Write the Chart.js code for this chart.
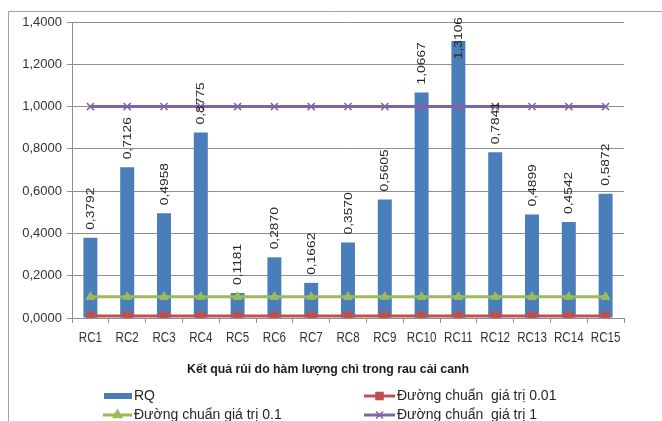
<!DOCTYPE html>
<html>
<head>
<meta charset="utf-8">
<script src="https://cdn.jsdelivr.net/npm/chart.js@4"></script>
<style>
  html, body { margin: 0; padding: 0; background: #ffffff; }
  #wrap { width: 662px; height: 421px; position: relative; }
</style>
</head>
<body>
<div id="wrap"><canvas id="c" width="662" height="421"></canvas></div>
<script>
// Sample codes for the mustard greens (rau cải canh) samples
const categories = ['RC1','RC2','RC3','RC4','RC5','RC6','RC7','RC8','RC9','RC10','RC11','RC12','RC13','RC14','RC15'];
// Risk quotient (RQ) for lead content
const rqValues = [0.3792, 0.7126, 0.4958, 0.8775, 0.1181, 0.2870, 0.1662, 0.3570, 0.5605, 1.0667, 1.3106, 0.7841, 0.4899, 0.4542, 0.5872];
// Reference lines
const ref001 = [0.01, 0.01, 0.01, 0.01, 0.01, 0.01, 0.01, 0.01, 0.01, 0.01, 0.01, 0.01, 0.01, 0.01, 0.01];
const ref01  = [0.1, 0.1, 0.1, 0.1, 0.1, 0.1, 0.1, 0.1, 0.1, 0.1, 0.1, 0.1, 0.1, 0.1, 0.1];
const ref1   = [1, 1, 1, 1, 1, 1, 1, 1, 1, 1, 1, 1, 1, 1, 1];
// Y axis range
const yMin = 0, yMax = 1.4, yStep = 0.2;

const seriesNames = ['RQ', 'Đường chuẩn  giá trị 0.01', 'Đường chuẩn giá trị 0.1', 'Đường chuẩn  giá trị 1'];
const axisTitle = 'Kết quả rủi do hàm lượng chì trong rau cải canh';

const COL_BLUE = '#4a7ebb', COL_RED = '#c0504d', COL_GREEN = '#9bbb59', COL_PURPLE = '#8064a2';
const GRID = '#8e8e8e';
const FONT = '"Liberation Sans", Arial, sans-serif';

const fmt = v => v.toFixed(4).replace('.', ',');

// Frame around the whole chart
const framePlugin = {
  id: 'frame',
  beforeDraw(chart) {
    const ctx = chart.ctx;
    ctx.save();
    ctx.strokeStyle = '#a0a0a0';
    ctx.lineWidth = 1;
    ctx.beginPath();
    ctx.moveTo(8.5, 421);
    ctx.lineTo(8.5, 11.5);
    ctx.lineTo(662, 11.5);
    ctx.stroke();
    ctx.restore();
  }
};

// Vertical value labels above each bar
const barLabelPlugin = {
  id: 'barLabels',
  afterDatasetsDraw(chart) {
    const ctx = chart.ctx;
    const meta = chart.getDatasetMeta(0);
    ctx.save();
    ctx.font = '11.5px ' + FONT;
    ctx.fillStyle = '#262626';
    ctx.textAlign = 'left';
    ctx.textBaseline = 'middle';
    const stretch = 1.2;
    meta.data.forEach((bar, i) => {
      const txt = fmt(rqValues[i]);
      const len = ctx.measureText(txt).width * stretch;
      let start = bar.y - 8;
      if (start - len < 17) start = 17 + len;
      ctx.save();
      ctx.translate(bar.x + 0.5, start);
      ctx.rotate(-Math.PI / 2);
      ctx.scale(stretch, 1);
      ctx.fillText(txt, 0, 0);
      ctx.restore();
    });
    ctx.restore();
  }
};

// Condensed category labels under the x axis
const categoryLabelPlugin = {
  id: 'categoryLabels',
  afterDraw(chart) {
    const ctx = chart.ctx;
    const xs = chart.scales.x;
    ctx.save();
    ctx.font = '14.5px ' + FONT;
    ctx.fillStyle = '#333333';
    ctx.textAlign = 'center';
    ctx.textBaseline = 'middle';
    categories.forEach((c, i) => {
      ctx.save();
      ctx.translate(xs.getPixelForValue(i), 338);
      ctx.scale(0.8, 1);
      ctx.fillText(c, 0, 0);
      ctx.restore();
    });
    ctx.restore();
  }
};

// Axis title and legend beneath the plot
const footerPlugin = {
  id: 'footer',
  afterDraw(chart) {
    const ctx = chart.ctx;
    ctx.save();
    ctx.fillStyle = '#1a1a1a';
    ctx.font = 'bold 13px ' + FONT;
    ctx.textAlign = 'center';
    ctx.textBaseline = 'middle';
    ctx.fillText(axisTitle, 328, 369, 282);

    ctx.font = '14px ' + FONT;
    ctx.textAlign = 'left';

    const items = [
      { x: 104, y: 396, w: 28, kind: 'bar', color: COL_BLUE, label: seriesNames[0] },
      { x: 364, y: 396, w: 31, kind: 'rect', color: COL_RED, label: seriesNames[1] },
      { x: 103, y: 415, w: 29, kind: 'triangle', color: COL_GREEN, label: seriesNames[2] },
      { x: 364, y: 415, w: 31, kind: 'crossRot', color: COL_PURPLE, label: seriesNames[3] }
    ];
    items.forEach(it => {
      if (it.kind === 'bar') {
        ctx.fillStyle = it.color;
        ctx.fillRect(it.x, it.y - 3, it.w, 6);
      } else {
        ctx.strokeStyle = it.color;
        ctx.fillStyle = it.color;
        ctx.lineWidth = 3;
        ctx.beginPath();
        ctx.moveTo(it.x, it.y);
        ctx.lineTo(it.x + it.w, it.y);
        ctx.stroke();
        ctx.lineWidth = 1.5;
        Chart.helpers.drawPoint(ctx, {
          pointStyle: it.kind, radius: 5, borderWidth: 1.5, rotation: 0
        }, it.x + it.w / 2, it.y);
      }
      ctx.fillStyle = '#262626';
      ctx.fillText(it.label, it.x + it.w + 2, it.y);
    });
    ctx.restore();
  }
};

new Chart(document.getElementById('c'), {
  data: {
    labels: categories,
    datasets: [
      {
        type: 'bar', label: seriesNames[0], data: rqValues,
        backgroundColor: COL_BLUE, barPercentage: 0.38, categoryPercentage: 1, order: 4
      },
      {
        type: 'line', label: seriesNames[1], data: ref001,
        borderColor: COL_RED, backgroundColor: COL_RED, borderWidth: 3,
        pointStyle: 'rect', pointRadius: 5.5, pointBorderWidth: 1, order: 3
      },
      {
        type: 'line', label: seriesNames[2], data: ref01,
        borderColor: COL_GREEN, backgroundColor: COL_GREEN, borderWidth: 3,
        pointStyle: 'triangle', pointRadius: 5, pointBorderWidth: 1, order: 2
      },
      {
        type: 'line', label: seriesNames[3], data: ref1,
        borderColor: COL_PURPLE, backgroundColor: COL_PURPLE, borderWidth: 3,
        pointStyle: 'crossRot', pointRadius: 5, pointBorderWidth: 1.5, order: 1
      }
    ]
  },
  options: {
    responsive: false,
    animation: false,
    layout: { padding: { top: 22, right: 38, left: 0, bottom: 0 } },
    plugins: { legend: { display: false }, tooltip: { enabled: false } },
    scales: {
      x: {
        offset: true,
        grid: { offset: true, drawOnChartArea: false, drawTicks: true, tickLength: 5, color: GRID },
        border: { display: true, color: GRID },
        ticks: { display: false, autoSkip: false },
        afterFit(scale) { scale.height = 103; }
      },
      y: {
        min: yMin, max: yMax,
        grid: { color: GRID, tickLength: 5 },
        border: { display: true, color: GRID },
        ticks: {
          stepSize: yStep, color: '#333333', font: { family: FONT, size: 13 }, padding: 5,
          callback: v => fmt(v)
        },
        afterFit(scale) { scale.width = 72; }
      }
    }
  },
  plugins: [framePlugin, barLabelPlugin, categoryLabelPlugin, footerPlugin]
});
</script>
</body>
</html>
